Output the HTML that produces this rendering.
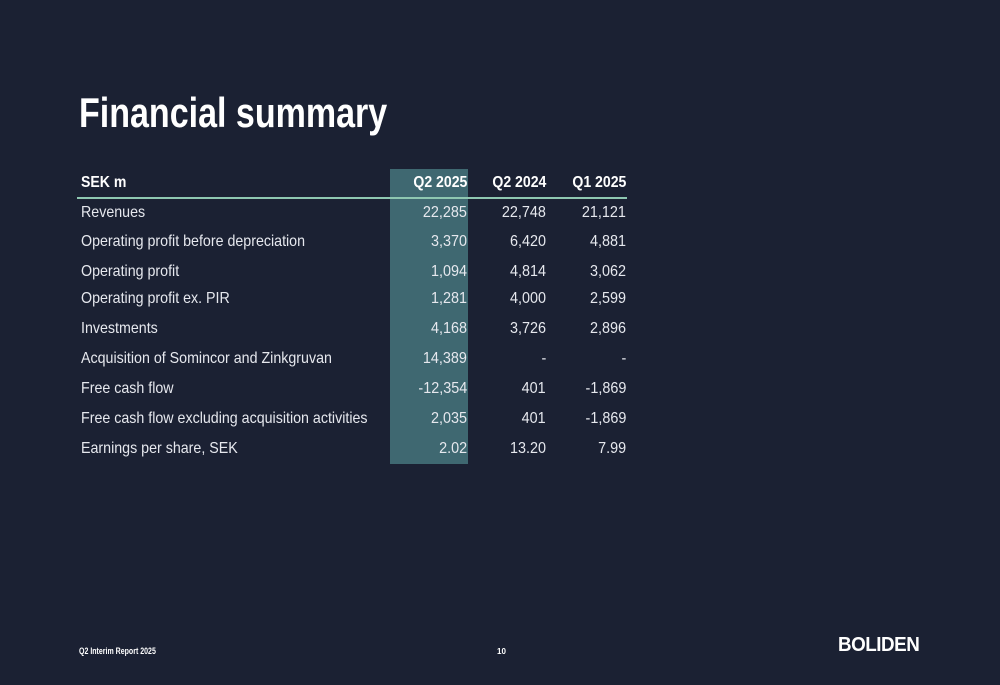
<!DOCTYPE html>
<html><head><meta charset="utf-8"><style>
body{margin:0;width:1000px;height:685px;background:#1b2133;overflow:hidden;position:relative;font-family:"Liberation Sans",sans-serif;color:#e6e8ee}
.t{position:absolute;white-space:nowrap}
#hl{position:absolute;left:390px;top:169px;width:78px;height:295px;background:#3f6871}
#line{position:absolute;left:77px;top:197px;width:550px;height:2px;background:#8ec7b1}
.row{position:absolute;left:0;width:1000px;height:30px;font-size:16px}
.row span{position:absolute;top:0;line-height:30px}
.l{left:81px;transform:scaleX(0.89);transform-origin:left center}
.c1,.c2,.c3{transform:scaleX(0.9);transform-origin:right center}
.c1{right:533px}.c2{right:454px}.c3{right:374px}
.h{font-weight:bold;font-size:16px;color:#fff}
.h span{transform:scaleX(0.88)}
</style></head><body>
<div class="t" style="left:79px;top:89px;font-size:42px;font-weight:bold;color:#fff;transform:scaleX(0.81);transform-origin:left center">Financial summary</div>
<div id="hl"></div>
<div id="line"></div>
<div class="row h" style="top:168px"><span class="l">SEK m</span><span class="c1">Q2 2025</span><span class="c2">Q2 2024</span><span class="c3">Q1 2025</span></div>
<div class="row" style="top:198px"><span class="l">Revenues</span><span class="c1">22,285</span><span class="c2">22,748</span><span class="c3">21,121</span></div>
<div class="row" style="top:227px"><span class="l">Operating profit before depreciation</span><span class="c1">3,370</span><span class="c2">6,420</span><span class="c3">4,881</span></div>
<div class="row" style="top:257px"><span class="l">Operating profit</span><span class="c1">1,094</span><span class="c2">4,814</span><span class="c3">3,062</span></div>
<div class="row" style="top:284px"><span class="l">Operating profit ex. PIR</span><span class="c1">1,281</span><span class="c2">4,000</span><span class="c3">2,599</span></div>
<div class="row" style="top:314px"><span class="l">Investments</span><span class="c1">4,168</span><span class="c2">3,726</span><span class="c3">2,896</span></div>
<div class="row" style="top:344px"><span class="l">Acquisition of Somincor and Zinkgruvan</span><span class="c1">14,389</span><span class="c2">-</span><span class="c3">-</span></div>
<div class="row" style="top:374px"><span class="l">Free cash flow</span><span class="c1">-12,354</span><span class="c2">401</span><span class="c3">-1,869</span></div>
<div class="row" style="top:404px"><span class="l">Free cash flow excluding acquisition activities</span><span class="c1">2,035</span><span class="c2">401</span><span class="c3">-1,869</span></div>
<div class="row" style="top:434px"><span class="l">Earnings per share, SEK</span><span class="c1">2.02</span><span class="c2">13.20</span><span class="c3">7.99</span></div>
<div class="t" style="left:79px;top:646px;font-size:9px;font-weight:bold;color:#fff;transform:scaleX(0.78);transform-origin:left center">Q2 Interim Report 2025</div>
<div class="t" style="left:497px;top:647px;font-size:8px;font-weight:bold;color:#fff">10</div>
<div class="t" style="left:838px;top:634px;font-size:20px;font-weight:bold;color:#fff;letter-spacing:-0.5px;transform:scaleX(0.94);transform-origin:left center">BOLIDEN</div>
</body></html>
